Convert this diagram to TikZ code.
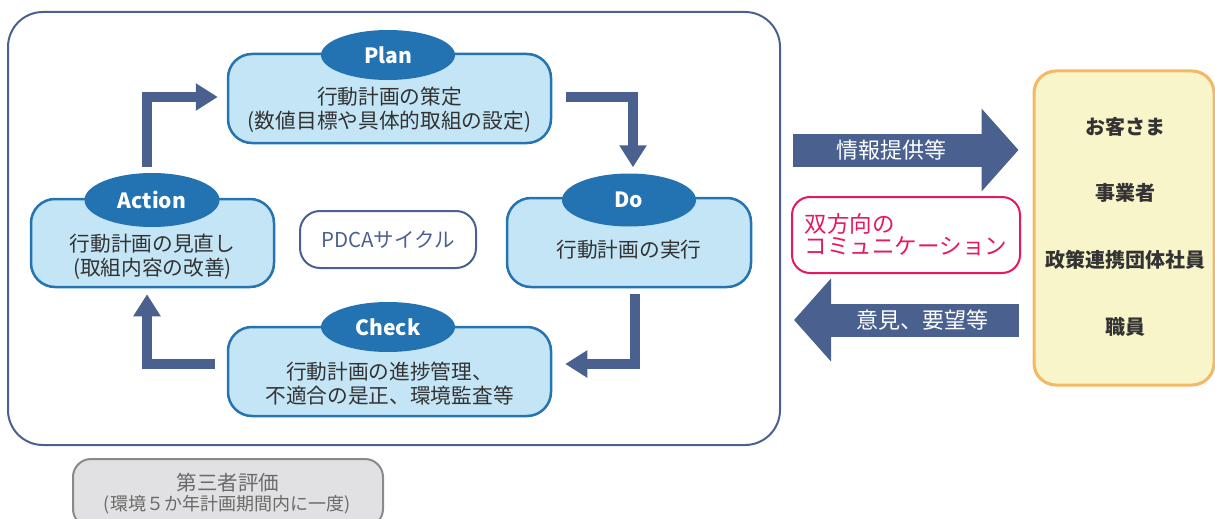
\documentclass[tikz,border=0pt]{standalone}
\usepackage{fontspec}
\setmainfont{Noto Sans CJK JP}
\usetikzlibrary{arrows.meta,shapes.geometric}
\definecolor{slate}{HTML}{4A6190}
\definecolor{boxfill}{HTML}{C3E5F6}
\definecolor{boxline}{HTML}{2574B1}
\definecolor{lblfill}{HTML}{2372B1}
\definecolor{txt}{HTML}{333333}
\definecolor{commcol}{HTML}{E5195C}
\definecolor{custfill}{HTML}{F8F5CA}
\definecolor{custline}{HTML}{F4B862}
\definecolor{grayfill}{HTML}{E1E1E3}
\definecolor{grayline}{HTML}{8A8A8C}
\definecolor{graytxt}{HTML}{6A6A6A}
\begin{document}
\begin{tikzpicture}[x=1pt,y=-1pt,
  stagebox/.style={draw=boxline, fill=boxfill, line width=2.5pt, rounded corners=24pt},
  lbl/.style={ellipse, fill=lblfill, draw=none, text=white, inner sep=0pt,
    font=\fontsize{21}{24}\selectfont\bfseries},
  body/.style={text=txt, align=center, inner sep=0pt, font=\fontsize{20.7}{24}\selectfont},
  flow/.style={draw=slate, line width=10pt, -{Triangle[length=22pt,width=26pt]}},
  bigflow/.style={draw=slate, line width=33pt, -{Triangle[length=37pt,width=81pt]}},
  arrtext/.style={text=white, inner sep=0pt, font=\fontsize{22}{26}\selectfont},
  custtext/.style={text=txt, inner sep=0pt, font=\fontsize{20}{24}\selectfont\bfseries}]
\useasboundingbox (0,0) rectangle (1215,519);
% outer frame
\node[draw=slate, line width=2pt, rounded corners=35pt, minimum width=772pt, minimum height=433pt] (outer) at (394,228.5) {};
% stage boxes
\node[stagebox, minimum width=323pt, minimum height=89pt] (plan) at (389.5,98.5) {};
\node[stagebox, minimum width=243pt, minimum height=88pt] (action) at (152.5,243) {};
\node[stagebox, minimum width=244pt, minimum height=89pt] (do) at (629,242.5) {};
\node[stagebox, minimum width=323pt, minimum height=89pt] (check) at (389.5,371.5) {};
\node[draw=slate, line width=2pt, rounded corners=20pt, minimum width=176pt, minimum height=57pt,
  text=slate, font=\fontsize{20.5}{24}\selectfont] (pdca) at (388,239.5) {PDCAサイクル};
% labels
\node[lbl, minimum width=134pt, minimum height=50pt] (planlbl) at (388,55) {Plan};
\node[lbl, minimum width=135pt, minimum height=54pt] (actionlbl) at (152,200) {Action};
\node[lbl, minimum width=134pt, minimum height=53pt] (dolbl) at (629,200) {Do};
\node[lbl, minimum width=134pt, minimum height=50pt] (checklbl) at (388,327) {Check};
% body texts
\node[body] (plantext) at (389.5,110) {行動計画の策定\\(数値目標や具体的取組の設定)};
\node[body] (actiontext) at (152.5,257) {行動計画の見直し\\(取組内容の改善)};
\node[body] (dotext) at (629,250) {行動計画の実行};
\node[body] (checktext) at (389.5,383.5) {行動計画の進捗管理、\\不適合の是正、環境監査等};
% cycle arrows
\draw[flow, shorten <=6pt, shorten >=9pt] ([xshift=-5pt]actionlbl.north) |- ([yshift=1.5pt]plan.west);
\draw[flow, shorten <=14pt, shorten >=6pt] ([yshift=1.5pt]plan.east) -| ([xshift=4pt]dolbl.north);
\draw[flow, shorten <=6pt, shorten >=13pt] ([xshift=5.5pt]do.south) |- ([yshift=7.5pt]check.east);
\draw[flow, shorten <=12pt, shorten >=6pt] ([yshift=7.5pt]check.west) -| ([xshift=-5.5pt]action.south);
% third-party evaluation
\node[draw=grayline, fill=grayfill, line width=2pt, rounded corners=18pt, minimum width=310pt, minimum height=68pt] (third) at (228,493) {};
\node[text=graytxt, inner sep=0pt, font=\fontsize{20.5}{24}\selectfont] (thirdtitle) at (228,483) {第三者評価};
\node[text=graytxt, inner sep=0pt, font=\fontsize{18}{20}\selectfont] (thirdsub) at (227,505) {(環境５か年計画期間内に一度)};
% stakeholders box
\node[draw=custline, fill=custfill, line width=3pt, rounded corners=22pt, minimum width=180pt, minimum height=314pt] (cust) at (1124,228) {};
\node[custtext] (c1) at (1125,127) {お客さま};
\node[custtext] (c2) at (1125,193) {事業者};
\node[custtext] (c3) at (1125,260) {政策連携団体社員};
\node[custtext] (c4) at (1125,327) {職員};
% communication box
\node[draw=commcol, line width=2pt, rounded corners=18pt, minimum width=228pt, minimum height=76pt,
  text=commcol, align=left, font=\fontsize{22.5}{22}\selectfont] (comm) at (906,235) {双方向の\\コミュニケーション};
% big arrows
\draw[bigflow, shorten <=12pt, shorten >=14pt] ([yshift=78.5pt]outer.east) -- ([yshift=78pt]cust.west);
\draw[bigflow, shorten <=14pt, shorten >=13pt] ([yshift=-92pt]cust.west) -- ([yshift=-91.5pt]outer.east);
\node[arrtext] (infotext) at (891,150) {情報提供等};
\node[arrtext] (opiniontext) at (922,320) {意見、要望等};
\end{tikzpicture}
\end{document}
